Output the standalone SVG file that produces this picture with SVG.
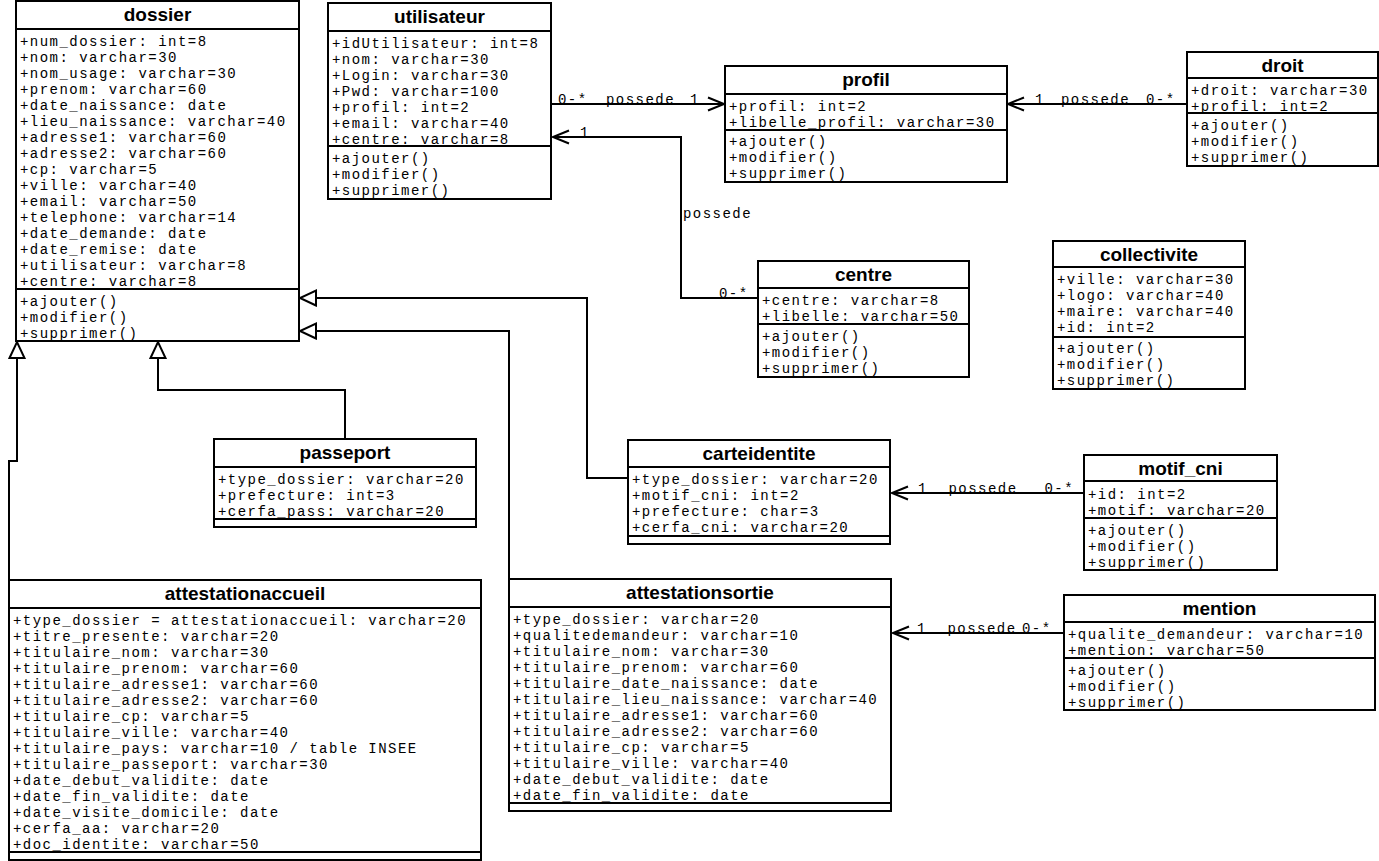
<svg xmlns="http://www.w3.org/2000/svg" width="1379" height="861" viewBox="0 0 1379 861">
<style>
.bx{fill:#fff;stroke:#000;stroke-width:2}
.ln{stroke:#000;stroke-width:2;fill:none}
.t{font-family:"Liberation Sans",Arial,sans-serif;font-weight:bold;font-size:19px;text-anchor:middle;fill:#000}
.a{font-family:"Liberation Mono","Courier New",monospace;font-size:14px;letter-spacing:1.47px;fill:#000}
.c{fill:none;stroke:#000;stroke-width:2}
</style>
<defs>
<marker id="open" markerUnits="userSpaceOnUse" markerWidth="20" markerHeight="16" refX="16" refY="7" orient="auto" overflow="visible">
<path d="M0,0.5 L16,7 L0,13.5" fill="none" stroke="#000" stroke-width="2"/>
</marker>
<marker id="tri" markerUnits="userSpaceOnUse" markerWidth="20" markerHeight="20" refX="0" refY="8" orient="auto" overflow="visible">
<path d="M0,0.5 L16,8 L0,15.5 Z" fill="#fff" stroke="#000" stroke-width="2"/>
</marker>
</defs>
<rect width="1379" height="861" fill="#fff"/>

<g id="connectors">
<path class="c" d="M9,580 V461 H17 V358" marker-end="url(#tri)"/>
<path class="c" d="M345,439 V390 H158 V358" marker-end="url(#tri)"/>
<path class="c" d="M628,478 H587 V298 H316" marker-end="url(#tri)"/>
<path class="c" d="M509,579 V331 H316" marker-end="url(#tri)"/>
<path class="c" d="M551,104 H724" marker-end="url(#open)"/>
<path class="c" d="M1187,104 H1008" marker-end="url(#open)"/>
<path class="c" d="M758,298 H681 V137 H553" marker-end="url(#open)"/>
<path class="c" d="M1084,493 H892" marker-end="url(#open)"/>
<path class="c" d="M1064,633 H893" marker-end="url(#open)"/>
<text class="a" x="558" y="104">0-*</text>
<text class="a" x="606" y="104">possede</text>
<text class="a" x="690" y="104">1</text>
<text class="a" x="1035" y="104">1</text>
<text class="a" x="1061" y="104">possede</text>
<text class="a" x="1146" y="104">0-*</text>
<text class="a" x="580" y="137">1</text>
<text class="a" x="683" y="218">possede</text>
<text class="a" x="719" y="298">0-*</text>
<text class="a" x="918" y="493">1</text>
<text class="a" x="948.5" y="493">possede</text>
<text class="a" x="1044.5" y="493">0-*</text>
<text class="a" x="917" y="633">1</text>
<text class="a" x="947.5" y="633">possede</text>
<text class="a" x="1022" y="633">0-*</text>
</g>

<g id="dossier">
<rect class="bx" x="16" y="1" width="283" height="340"/>
<path class="ln" d="M16,29 H299 M16,289 H299"/>
<text class="t" x="157.5" y="21">dossier</text>
<text class="a" x="20" y="45.5"><tspan>+num_dossier: int=8</tspan><tspan x="20" dy="16">+nom: varchar=30</tspan><tspan x="20" dy="16">+nom_usage: varchar=30</tspan><tspan x="20" dy="16">+prenom: varchar=60</tspan><tspan x="20" dy="16">+date_naissance: date</tspan><tspan x="20" dy="16">+lieu_naissance: varchar=40</tspan><tspan x="20" dy="16">+adresse1: varchar=60</tspan><tspan x="20" dy="16">+adresse2: varchar=60</tspan><tspan x="20" dy="16">+cp: varchar=5</tspan><tspan x="20" dy="16">+ville: varchar=40</tspan><tspan x="20" dy="16">+email: varchar=50</tspan><tspan x="20" dy="16">+telephone: varchar=14</tspan><tspan x="20" dy="16">+date_demande: date</tspan><tspan x="20" dy="16">+date_remise: date</tspan><tspan x="20" dy="16">+utilisateur: varchar=8</tspan><tspan x="20" dy="16">+centre: varchar=8</tspan></text>
<text class="a" x="20" y="305.5"><tspan>+ajouter()</tspan><tspan x="20" dy="16">+modifier()</tspan><tspan x="20" dy="16">+supprimer()</tspan></text>
</g>

<g id="utilisateur">
<rect class="bx" x="328" y="3" width="223" height="196"/>
<path class="ln" d="M328,31 H551 M328,146 H551"/>
<text class="t" x="439.5" y="23">utilisateur</text>
<text class="a" x="332" y="47.5"><tspan>+idUtilisateur: int=8</tspan><tspan x="332" dy="16">+nom: varchar=30</tspan><tspan x="332" dy="16">+Login: varchar=30</tspan><tspan x="332" dy="16">+Pwd: varchar=100</tspan><tspan x="332" dy="16">+profil: int=2</tspan><tspan x="332" dy="16">+email: varchar=40</tspan><tspan x="332" dy="16">+centre: varchar=8</tspan></text>
<text class="a" x="332" y="162.5"><tspan>+ajouter()</tspan><tspan x="332" dy="16">+modifier()</tspan><tspan x="332" dy="16">+supprimer()</tspan></text>
</g>

<g id="profil">
<rect class="bx" x="725" y="66" width="282" height="116"/>
<path class="ln" d="M725,94 H1007 M725,130 H1007"/>
<text class="t" x="866" y="86">profil</text>
<text class="a" x="729" y="110.5"><tspan>+profil: int=2</tspan><tspan x="729" dy="16">+libelle_profil: varchar=30</tspan></text>
<text class="a" x="729" y="146"><tspan>+ajouter()</tspan><tspan x="729" dy="16">+modifier()</tspan><tspan x="729" dy="16">+supprimer()</tspan></text>
</g>

<g id="droit">
<rect class="bx" x="1187" y="52" width="191" height="114"/>
<path class="ln" d="M1187,78 H1378 M1187,113 H1378"/>
<text class="t" x="1282.5" y="72">droit</text>
<text class="a" x="1191" y="94.5"><tspan>+droit: varchar=30</tspan><tspan x="1191" dy="16">+profil: int=2</tspan></text>
<text class="a" x="1191" y="130"><tspan>+ajouter()</tspan><tspan x="1191" dy="16">+modifier()</tspan><tspan x="1191" dy="16">+supprimer()</tspan></text>
</g>

<g id="centre">
<rect class="bx" x="758" y="261" width="211" height="116"/>
<path class="ln" d="M758,288 H969 M758,324 H969"/>
<text class="t" x="863.5" y="281">centre</text>
<text class="a" x="762" y="304.5"><tspan>+centre: varchar=8</tspan><tspan x="762" dy="16">+libelle: varchar=50</tspan></text>
<text class="a" x="762" y="340.5"><tspan>+ajouter()</tspan><tspan x="762" dy="16">+modifier()</tspan><tspan x="762" dy="16">+supprimer()</tspan></text>
</g>

<g id="collectivite">
<rect class="bx" x="1053" y="241" width="192" height="148"/>
<path class="ln" d="M1053,267 H1245 M1053,337 H1245"/>
<text class="t" x="1149" y="261">collectivite</text>
<text class="a" x="1057" y="283.5"><tspan>+ville: varchar=30</tspan><tspan x="1057" dy="16">+logo: varchar=40</tspan><tspan x="1057" dy="16">+maire: varchar=40</tspan><tspan x="1057" dy="16">+id: int=2</tspan></text>
<text class="a" x="1057" y="353"><tspan>+ajouter()</tspan><tspan x="1057" dy="16">+modifier()</tspan><tspan x="1057" dy="16">+supprimer()</tspan></text>
</g>

<g id="passeport">
<rect class="bx" x="214" y="439" width="262" height="88"/>
<path class="ln" d="M214,467 H476 M214,519 H476"/>
<text class="t" x="345" y="459">passeport</text>
<text class="a" x="218" y="483.5"><tspan>+type_dossier: varchar=20</tspan><tspan x="218" dy="16">+prefecture: int=3</tspan><tspan x="218" dy="16">+cerfa_pass: varchar=20</tspan></text>
</g>

<g id="carteidentite">
<rect class="bx" x="628" y="440" width="262" height="104"/>
<path class="ln" d="M628,467 H890 M628,536 H890"/>
<text class="t" x="759" y="460">carteidentite</text>
<text class="a" x="632" y="483.5"><tspan>+type_dossier: varchar=20</tspan><tspan x="632" dy="16">+motif_cni: int=2</tspan><tspan x="632" dy="16">+prefecture: char=3</tspan><tspan x="632" dy="16">+cerfa_cni: varchar=20</tspan></text>
</g>

<g id="motif_cni">
<rect class="bx" x="1084" y="455" width="193" height="115"/>
<path class="ln" d="M1084,481 H1277 M1084,518 H1277"/>
<text class="t" x="1180.5" y="475">motif_cni</text>
<text class="a" x="1088" y="499"><tspan>+id: int=2</tspan><tspan x="1088" dy="16">+motif: varchar=20</tspan></text>
<text class="a" x="1088" y="534.5"><tspan>+ajouter()</tspan><tspan x="1088" dy="16">+modifier()</tspan><tspan x="1088" dy="16">+supprimer()</tspan></text>
</g>

<g id="mention">
<rect class="bx" x="1064" y="595" width="311" height="115"/>
<path class="ln" d="M1064,622 H1375 M1064,658 H1375"/>
<text class="t" x="1219.5" y="615">mention</text>
<text class="a" x="1068" y="638.5"><tspan>+qualite_demandeur: varchar=10</tspan><tspan x="1068" dy="16">+mention: varchar=50</tspan></text>
<text class="a" x="1068" y="674.5"><tspan>+ajouter()</tspan><tspan x="1068" dy="16">+modifier()</tspan><tspan x="1068" dy="16">+supprimer()</tspan></text>
</g>

<g id="attestationaccueil">
<rect class="bx" x="9" y="580" width="472" height="280"/>
<path class="ln" d="M9,608 H481 M9,852 H481"/>
<text class="t" x="245" y="600">attestationaccueil</text>
<text class="a" x="13" y="624.5"><tspan>+type_dossier = attestationaccueil: varchar=20</tspan><tspan x="13" dy="16">+titre_presente: varchar=20</tspan><tspan x="13" dy="16">+titulaire_nom: varchar=30</tspan><tspan x="13" dy="16">+titulaire_prenom: varchar=60</tspan><tspan x="13" dy="16">+titulaire_adresse1: varchar=60</tspan><tspan x="13" dy="16">+titulaire_adresse2: varchar=60</tspan><tspan x="13" dy="16">+titulaire_cp: varchar=5</tspan><tspan x="13" dy="16">+titulaire_ville: varchar=40</tspan><tspan x="13" dy="16">+titulaire_pays: varchar=10 / table INSEE</tspan><tspan x="13" dy="16">+titulaire_passeport: varchar=30</tspan><tspan x="13" dy="16">+date_debut_validite: date</tspan><tspan x="13" dy="16">+date_fin_validite: date</tspan><tspan x="13" dy="16">+date_visite_domicile: date</tspan><tspan x="13" dy="16">+cerfa_aa: varchar=20</tspan><tspan x="13" dy="16">+doc_identite: varchar=50</tspan></text>
</g>

<g id="attestationsortie">
<rect class="bx" x="509" y="579" width="382" height="232"/>
<path class="ln" d="M509,607 H891 M509,803 H891"/>
<text class="t" x="700" y="599">attestationsortie</text>
<text class="a" x="513" y="623.5"><tspan>+type_dossier: varchar=20</tspan><tspan x="513" dy="16">+qualitedemandeur: varchar=10</tspan><tspan x="513" dy="16">+titulaire_nom: varchar=30</tspan><tspan x="513" dy="16">+titulaire_prenom: varchar=60</tspan><tspan x="513" dy="16">+titulaire_date_naissance: date</tspan><tspan x="513" dy="16">+titulaire_lieu_naissance: varchar=40</tspan><tspan x="513" dy="16">+titulaire_adresse1: varchar=60</tspan><tspan x="513" dy="16">+titulaire_adresse2: varchar=60</tspan><tspan x="513" dy="16">+titulaire_cp: varchar=5</tspan><tspan x="513" dy="16">+titulaire_ville: varchar=40</tspan><tspan x="513" dy="16">+date_debut_validite: date</tspan><tspan x="513" dy="16">+date_fin_validite: date</tspan></text>
</g>
</svg>
